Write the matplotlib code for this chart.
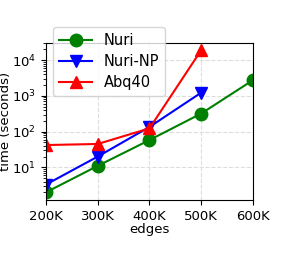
import matplotlib
matplotlib.use("Agg")
import matplotlib.pyplot as plt

# edges (thousands) and runtimes in seconds
edges = [200, 300, 400, 500, 600]
edge_labels = ["200K", "300K", "400K", "500K", "600K"]
nuri = [2.0, 11, 58, 320, 2750]
nuri_np = [3.3, 20, 135, 1230]
abq40 = [42, 45, 123, 19000]

fig = plt.figure(figsize=(2.87, 2.64), dpi=100)
ax = fig.add_axes([46/287, 1 - 200/264, 207/287, 157/264])

ax.plot(edges, nuri, 'o-', color="green", ms=9, label="Nuri")
ax.plot(edges[:4], nuri_np, 'v-', color="blue", ms=9, label="Nuri-NP")
ax.plot(edges[:4], abq40, '^-', color="red", ms=9, label="Abq40")

ax.set_yscale("log")
ax.set_ylim(1.22, 3e4)
ax.set_xlim(200, 600)
ax.set_xticks(edges)
ax.set_xticklabels(edge_labels)
ax.tick_params(labelsize=9.5)
ax.grid(True, linestyle="--", color="#dddddd", linewidth=0.8)
ax.set_xlabel("edges", fontsize=9.5, labelpad=0)
ax.set_ylabel("time (seconds)", fontsize=9.5, labelpad=0)

ax.legend(loc="upper left", bbox_to_anchor=(0.034, 1.10), borderaxespad=0,
          fontsize=10.5, handlelength=2.3, labelspacing=0.4)

fig.savefig("out.png")
